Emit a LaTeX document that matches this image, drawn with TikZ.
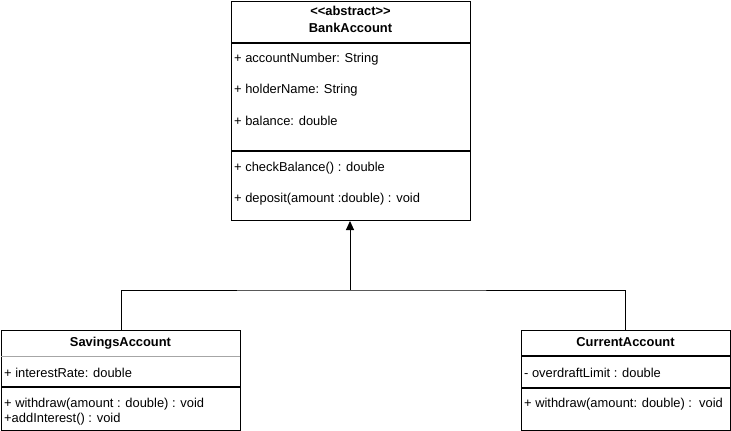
\documentclass[tikz,border=0pt]{standalone}
\usepackage{fontspec}
\setmainfont{Liberation Sans}[Ligatures=NoCommon]
\usetikzlibrary{arrows.meta,calc}
\begin{document}
\begin{tikzpicture}[x=1pt,y=-1pt,
  umlbox/.style={draw,line width=1pt,anchor=north west,inner sep=0pt},
  member/.style={anchor=base west,inner sep=0pt,font=\fontsize{12.9}{14}\selectfont},
  title/.style={anchor=base,inner sep=0pt,font=\fontsize{12.9}{14}\selectfont\bfseries},
  divthick/.style={line width=2pt},
  divthin/.style={line width=1pt,draw=gray!70},
  conn/.style={line width=1pt}]
\useasboundingbox (0,0) rectangle (731,431);
% BankAccount
\node[umlbox,minimum width=239pt,minimum height=219pt] (ba) at (231,1) {};
\node[title] (bat1) at (350.5,16) {{<}{<}abstract{>}{>}};
\node[title] (bat2) at (350.5,32) {BankAccount};
\draw[divthick] (231,43) -- (470,43);
\node[member] (ba1) at (234,62) {+ accountNumber: String};
\node[member] (ba2) at (234,93) {+ holderName: String};
\node[member] (ba3) at (234,125) {+ balance: double};
\draw[divthick] (231,151) -- (470,151);
\node[member] (ba4) at (234,171) {+ checkBalance() : double};
\node[member] (ba5) at (234,202) {+ deposit(amount :double) : void};
% SavingsAccount
\node[umlbox,minimum width=239pt,minimum height=100pt] (sa) at (1,330) {};
\node[title] (sat) at (120.5,346) {SavingsAccount};
\draw[divthin] (1,356) -- (240,356);
\node[member] (sa1) at (4,377) {+ interestRate: double};
\draw[divthick] (1,387) -- (240,387);
\node[member] (sa2) at (4,407) {+ withdraw(amount : double) : void};
\node[member] (sa3) at (4,422) {+addInterest() : void};
% CurrentAccount
\node[umlbox,minimum width=209pt,minimum height=100pt] (ca) at (521,330) {};
\node[title] (cat) at (625.5,346) {CurrentAccount};
\draw[divthick] (521,356) -- (730,356);
\node[member] (ca1) at (524,377) {- overdraftLimit : double};
\draw[divthick] (521,388) -- (730,388);
\node[member] (ca2) at (524,407) {+ withdraw(amount: double) :\ \ void};
% connectors
\coordinate (j) at (350,290);
\draw[conn] (sa.north -| 121,0) |- (j) -| (ca.north -| 625,0);
\draw[conn,-{Stealth[length=9pt,width=8pt,inset=0pt]}] (j) -- (ba.south -| j);
\end{tikzpicture}
\end{document}
